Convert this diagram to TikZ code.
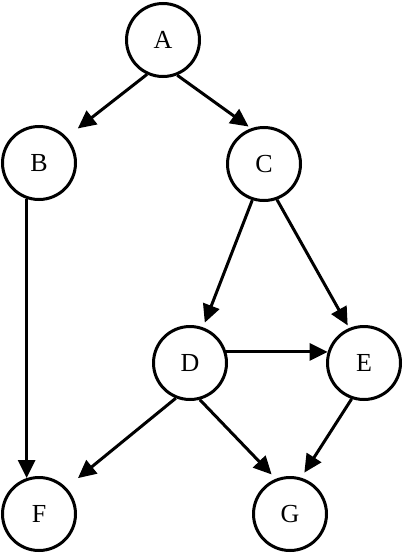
\documentclass[tikz,border=0pt]{standalone}
\usepackage{fontspec}
\setmainfont{Liberation Serif}
\usetikzlibrary{arrows.meta}

\begin{document}
\begin{tikzpicture}[x=1pt, y=-1pt,
	vertex/.style={draw, circle, line width=3pt, minimum size=73pt, inner sep=0pt,
		font=\fontsize{26}{30}\selectfont},
	edge/.style={line width=3pt, -{Triangle[length=18pt, width=17pt]}}]
	\useasboundingbox (0,0) rectangle (404,554);
	% vertices
	\node[vertex] (A) at (163,40) {A};
	\node[vertex] (B) at (39,163) {B};
	\node[vertex] (C) at (264,164) {C};
	\node[vertex] (D) at (190,363) {D};
	\node[vertex] (E) at (364,363) {E};
	\node[vertex] (F) at (39,514) {F};
	\node[vertex] (G) at (290,514) {G};
	% edges
	\draw[edge, shorten >=14pt] (A.245) -- (B.43);
	\draw[edge, shorten >=3pt] (A.292) -- (C.110);
	\draw[edge] (B.251) -- (F.109);
	\draw[edge, shorten >=5pt] (C.252) -- (D.70);
	\draw[edge, shorten >=3pt] (C.290) -- (E.113);
	\draw[edge] (D.17) -- (E.163);
	\draw[edge, shorten >=15pt] (D.248) -- (F.44);
	\draw[edge, shorten >=6pt] (D.285) -- (G.112);
	\draw[edge, shorten >=6pt] (E.251) -- (G.73);
\end{tikzpicture}
\end{document}
